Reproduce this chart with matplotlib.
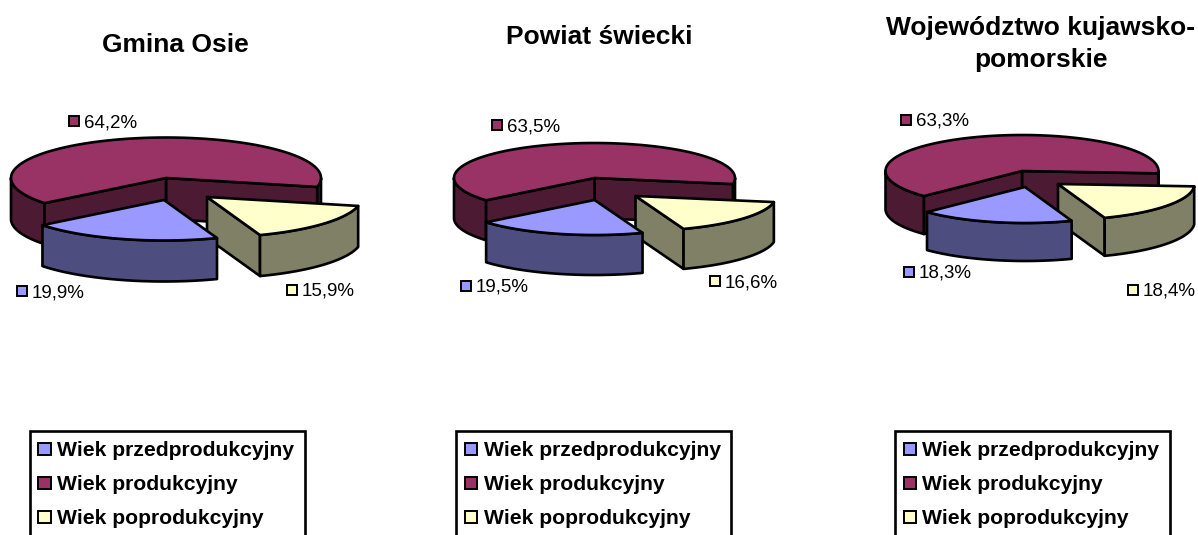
import numpy as np
import matplotlib
matplotlib.use("Agg")
import matplotlib.pyplot as plt
from matplotlib.patches import Polygon, Rectangle

plt.rcParams['font.family'] = ['Liberation Sans', 'DejaVu Sans']

# ---------- data ----------
categories = ['Wiek przedprodukcyjny', 'Wiek produkcyjny', 'Wiek poprodukcyjny']
gmina_osie = [19.9, 64.2, 15.9]
powiat_swiecki = [19.5, 63.5, 16.6]
wojewodztwo = [18.3, 63.3, 18.4]
titles = ['Gmina Osie', 'Powiat świecki', 'Województwo kujawsko-\npomorskie']
series = [gmina_osie, powiat_swiecki, wojewodztwo]

# ---------- style and layout (pixel coordinates) ----------
TOP = ['#9999FF', '#993366', '#FFFFCC']
SIDE = ['#4D4D80', '#4D1A33', '#808066']
START = -70.0   # angle (maths convention) where the first slice begins, clockwise
layout = [
    dict(c=(166, 178), rx=155, ry=40.5, d=41, blue=(-2, 22), yellow=(41, 19),
         title=(175, 45), boxx=(29.5, 305),
         labels=[(22, 291), (74, 121), (292, 290)]),
    dict(c=(594.5, 178), rx=140.5, ry=35, d=40, blue=(0, 22), yellow=(41, 18),
         title=(599, 37.5), boxx=(456, 731),
         labels=[(466, 286), (497, 125), (715, 281)]),
    dict(c=(1022, 171), rx=136.5, ry=36, d=38, blue=(3, 16), yellow=(36, 13),
         title=(1041, 44), boxx=(895, 1170),
         labels=[(909, 272), (906, 120), (1133, 290)]),
]
LW = 1.9
SWATCH_LW = 1.4

fig = plt.figure(figsize=(11.98, 5.35), dpi=100)
ax = fig.add_axes([0, 0, 1, 1])
ax.set_xlim(0, 1198)
ax.set_ylim(535, 0)
ax.axis('off')


def arc(c, rx, ry, a0, a1, dy=0, n=80):
    t = np.radians(np.linspace(a0, a1, n))
    return np.column_stack([c[0] + rx * np.cos(t), c[1] - ry * np.sin(t) + dy])


def poly(points, color, z):
    ax.add_patch(Polygon(points, closed=True, facecolor=color, edgecolor='black',
                         linewidth=LW, joinstyle='round', zorder=z))


def side(c, rx, ry, d, a0, a1, color, z):
    poly(np.vstack([arc(c, rx, ry, a0, a1), arc(c, rx, ry, a1, a0, dy=d)]), color, z)


def cut(c, rx, ry, d, a, color, z):
    e = arc(c, rx, ry, a, a, n=1)[0]
    poly([c, e, (e[0], e[1] + d), (c[0], c[1] + d)], color, z)


def top(c, rx, ry, a0, a1, color, z):
    poly(np.vstack([[c], arc(c, rx, ry, a0, a1)]), color, z)


def swatch(x, y, size, color):
    ax.add_patch(Rectangle((x - size / 2, y - size / 2), size, size, facecolor=color,
                           edgecolor='black', linewidth=SWATCH_LW, zorder=8))


for vals, g, title in zip(series, layout, titles):
    c, rx, ry, d = g['c'], g['rx'], g['ry'], g['d']
    sweep = [v / sum(vals) * 360 for v in vals]
    b0 = START
    b1 = b0 - sweep[0]            # blue: b0 -> b1 clockwise
    m1 = b1 - sweep[1]            # main: b1 -> m1 clockwise
    y1 = m1 - sweep[2]            # yellow: m1 -> y1 clockwise (y1 == b0 - 360)
    m1n = m1 + 360                # same edge, just below the right horizontal
    y1n = y1 + 360

    # main slice
    side(c, rx, ry, d, b1, -180, SIDE[1], 2)
    side(c, rx, ry, d, m1n, 0, SIDE[1], 2)
    cut(c, rx, ry, d, m1n, SIDE[1], 3)
    cut(c, rx, ry, d, b1, SIDE[1], 3)
    top(c, rx, ry, b1, m1, TOP[1], 4)

    # yellow slice, pulled out
    cy = (c[0] + g['yellow'][0], c[1] + g['yellow'][1])
    cut(cy, rx, ry, d, y1n, SIDE[2], 5)
    side(cy, rx, ry, d, y1n, m1n, SIDE[2], 5)
    top(cy, rx, ry, m1n, y1n, TOP[2], 6)

    # blue slice, pulled out
    cb = (c[0] + g['blue'][0], c[1] + g['blue'][1])
    side(cb, rx, ry, d, b1, b0, SIDE[0], 5)
    top(cb, rx, ry, b0, b1, TOP[0], 6)

    # data labels
    for v, (lx, ly), col in zip(vals, g['labels'], TOP):
        swatch(lx, ly, 10.5, col)
        ax.text(lx + 10, ly - 0.5, f'{v:.1f}'.replace('.', ',') + '%', fontsize=13.5,
                ha='left', va='center_baseline', color='black', zorder=8)

    # title
    ax.text(g['title'][0], g['title'][1], title, fontsize=19, fontweight='bold',
            ha='center', va='center', linespacing=1.38, color='black', zorder=8)

    # legend box, running off the lower edge of the picture
    x0, x1 = g['boxx']
    ax.add_patch(Rectangle((x0, 431), x1 - x0, 140, facecolor='white', edgecolor='black',
                           linewidth=LW, zorder=7))
    for name, col, ly in zip(categories, TOP, (449, 483, 517)):
        swatch(x0 + 15, ly, 12.5, col)
        ax.text(x0 + 27.5, ly - 0.5, name, fontsize=15.2, fontweight='bold', ha='left',
                va='center_baseline', color='black', zorder=8)

fig.savefig('out.png', dpi=100, facecolor='white')
